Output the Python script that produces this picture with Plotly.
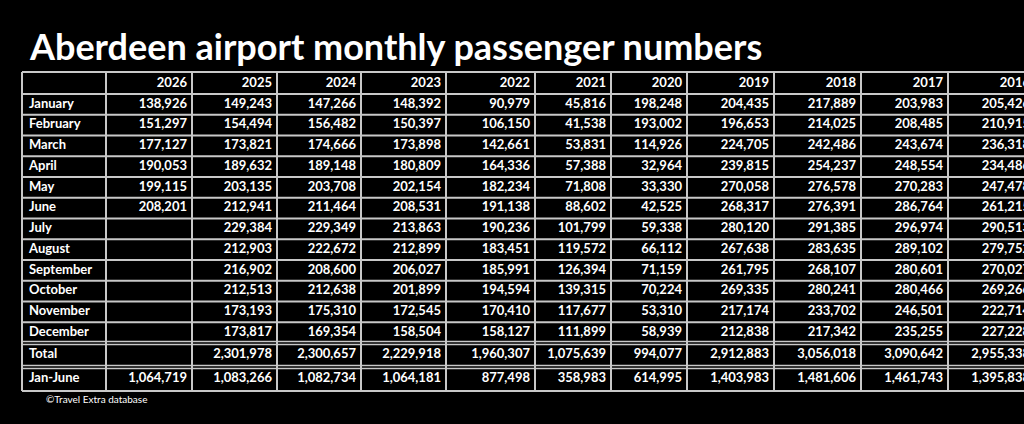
import plotly.graph_objects as go

years = ["2026", "2025", "2024", "2023", "2022", "2021", "2020", "2019", "2018", "2017", "2016"]
rows = ["January", "February", "March", "April", "May", "June", "July", "August",
        "September", "October", "November", "December", "Total", "Jan-June"]

data = {
    "2026": ["138,926", "151,297", "177,127", "190,053", "199,115", "208,201", "", "", "", "", "", "", "", "1,064,719"],
    "2025": ["149,243", "154,494", "173,821", "189,632", "203,135", "212,941", "229,384", "212,903", "216,902", "212,513", "173,193", "173,817", "2,301,978", "1,083,266"],
    "2024": ["147,266", "156,482", "174,666", "189,148", "203,708", "211,464", "229,349", "222,672", "208,600", "212,638", "175,310", "169,354", "2,300,657", "1,082,734"],
    "2023": ["148,392", "150,397", "173,898", "180,809", "202,154", "208,531", "213,863", "212,899", "206,027", "201,899", "172,545", "158,504", "2,229,918", "1,064,181"],
    "2022": ["90,979", "106,150", "142,661", "164,336", "182,234", "191,138", "190,236", "183,451", "185,991", "194,594", "170,410", "158,127", "1,960,307", "877,498"],
    "2021": ["45,816", "41,538", "53,831", "57,388", "71,808", "88,602", "101,799", "119,572", "126,394", "139,315", "117,677", "111,899", "1,075,639", "358,983"],
    "2020": ["198,248", "193,002", "114,926", "32,964", "33,330", "42,525", "59,338", "66,112", "71,159", "70,224", "53,310", "58,939", "994,077", "614,995"],
    "2019": ["204,435", "196,653", "224,705", "239,815", "270,058", "268,317", "280,120", "267,638", "261,795", "269,335", "217,174", "212,838", "2,912,883", "1,403,983"],
    "2018": ["217,889", "214,025", "242,486", "254,237", "276,578", "276,391", "291,385", "283,635", "268,107", "280,241", "233,702", "217,342", "3,056,018", "1,481,606"],
    "2017": ["203,983", "208,485", "243,674", "248,554", "270,283", "286,764", "296,974", "289,102", "280,601", "280,466", "246,501", "235,255", "3,090,642", "1,461,743"],
    "2016": ["205,426", "210,915", "236,318", "234,486", "247,478", "261,215", "290,513", "279,752", "270,027", "269,266", "222,714", "227,228", "2,955,338", "1,395,838"],
}

# table geometry (pixels)
col_widths = [84, 86, 85, 84, 85, 89, 76, 76, 87, 87, 87, 87]
row_heights = [22] + [20.75] * 12 + [24, 24]
x0, y0 = 22, 72

xs = [x0]
for w in col_widths:
    xs.append(xs[-1] + w)
ys = [y0]
for h in row_heights:
    ys.append(ys[-1] + h)

fig = go.Figure()

font = dict(family="Lato, Open Sans, sans-serif", size=13, color="white")
tx, ty, tp = [], [], []
# header
for j, y in enumerate(years):
    tx.append(xs[j + 2] - 5); ty.append((ys[0] + ys[1]) / 2 + 1); tp.append("<b>%s</b>" % y)
fig.add_trace(go.Scatter(x=tx, y=ty, text=tp, mode="text", textposition="middle left",
                         textfont=font, cliponaxis=True, hoverinfo="skip"))
# row labels
fig.add_trace(go.Scatter(x=[x0 + 7] * len(rows), y=[(ys[i + 1] + ys[i + 2]) / 2 for i in range(len(rows))],
                         text=["<b>%s</b>" % r for r in rows], mode="text", textposition="middle right",
                         textfont=font, hoverinfo="skip"))
# values
tx, ty, tp = [], [], []
for j, y in enumerate(years):
    for i, v in enumerate(data[y]):
        if v:
            tx.append(xs[j + 2] - 5); ty.append((ys[i + 1] + ys[i + 2]) / 2); tp.append("<b>%s</b>" % v)
fig.add_trace(go.Scatter(x=tx, y=ty, text=tp, mode="text", textposition="middle left",
                         textfont=font, cliponaxis=True, hoverinfo="skip"))

line = dict(color="#c8c8c8", width=2)
for x in xs:
    fig.add_shape(type="line", x0=x, x1=x, y0=ys[0], y1=ys[-1], line=line)
for k, y in enumerate(ys):
    if k in (13, 14):
        fig.add_shape(type="line", x0=xs[0], x1=xs[-1], y0=y - 1.5, y1=y - 1.5, line=dict(color="#c8c8c8", width=1.5))
        fig.add_shape(type="line", x0=xs[0], x1=xs[-1], y0=y + 1.5, y1=y + 1.5, line=dict(color="#c8c8c8", width=1.5))
    else:
        fig.add_shape(type="line", x0=xs[0], x1=xs[-1], y0=y, y1=y, line=line)

fig.add_annotation(text="<b>Aberdeen airport monthly passenger numbers</b>", x=27, y=46,
                   xanchor="left", yanchor="middle", showarrow=False,
                   font=dict(family="Lato, sans-serif", size=36, color="white"))
fig.add_annotation(text="©Travel Extra database", x=44, y=399, xanchor="left", yanchor="middle",
                   showarrow=False, font=dict(family="Lato, sans-serif", size=10, color="white"))

fig.update_layout(
    width=1024,
    height=424,
    paper_bgcolor="black",
    plot_bgcolor="black",
    margin=dict(l=0, r=0, t=0, b=0),
    showlegend=False,
    xaxis=dict(range=[0, 1024], visible=False, fixedrange=True),
    yaxis=dict(range=[424, 0], visible=False, fixedrange=True),
)

fig.write_html("out.html", config={"displayModeBar": False},
               post_script="document.body.style.margin='0';document.body.style.background='black';document.body.style.overflow='hidden';")
